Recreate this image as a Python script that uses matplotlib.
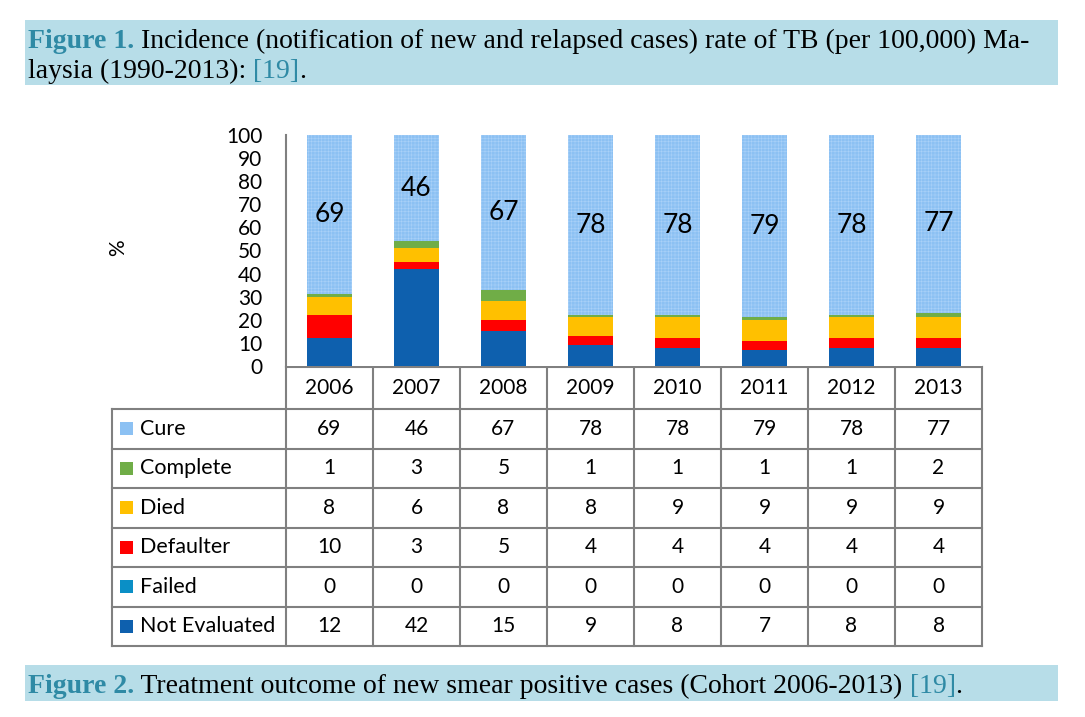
import matplotlib.pyplot as plt
import numpy as np

# Данные
years = ['2006', '2007', '2008', '2009', '2010', '2011', '2012', '2013']
categories = ['Cure', 'Complete', 'Died', 'Defaulter', 'Failed', 'Not Evaluated']
cure = [69, 46, 67, 78, 78, 79, 78, 77]
complete = [1, 3, 5, 1, 1, 1, 1, 2]
died = [8, 6, 8, 8, 9, 9, 9, 9]
defaulter = [10, 3, 5, 4, 4, 4, 4, 4]
failed = [0, 0, 0, 0, 0, 0, 0, 0]
not_evaluated = [12, 42, 15, 9, 8, 7, 8, 8]

colors = {'Cure': '#8cc1f3', 'Complete': '#70ad47', 'Died': '#ffc000',
          'Defaulter': '#ff0000', 'Failed': '#0a8fc6', 'Not Evaluated': '#0e60ae'}
series = {'Cure': cure, 'Complete': complete, 'Died': died,
          'Defaulter': defaulter, 'Failed': failed, 'Not Evaluated': not_evaluated}

W, H = 1085, 717
plt.rcParams['font.family'] = ['Lato', 'DejaVu Sans']
plt.rcParams['hatch.linewidth'] = 0.4
fig = plt.figure(figsize=(W / 100, H / 100), dpi=100)

# фон-слой в пикселях (подписи и таблица)
bg = fig.add_axes([0, 0, 1, 1])
bg.set_xlim(0, W)
bg.set_ylim(H, 0)
bg.axis('off')

# столбцы
x0, x1, ytop, ybot = 286, 982, 135, 366
ax = fig.add_axes([x0 / W, 1 - ybot / H, (x1 - x0) / W, (ybot - ytop) / H])
x = np.arange(len(years)) + 0.5
bottom = np.zeros(len(years))
for name in ['Not Evaluated', 'Failed', 'Defaulter', 'Died', 'Complete', 'Cure']:
    vals = np.array(series[name], dtype=float)
    if name == 'Cure':
        ax.bar(x, vals, 0.51, bottom=bottom, color=colors[name],
               edgecolor='#a9d1f8', hatch='+++++', linewidth=0)
        for xi, b, v in zip(x, bottom, vals):
            ax.text(xi, b + v / 2, f'{int(v)}', ha='center', va='center', fontsize=19)
    else:
        ax.bar(x, vals, 0.51, bottom=bottom, color=colors[name], linewidth=0)
    bottom += vals
ax.set_xlim(0, 8)
ax.set_ylim(0, 100)
ax.set_yticks(range(0, 101, 10))
ax.tick_params(axis='y', length=0, pad=17, labelsize=15)
ax.set_xticks([])
for s in ['top', 'right']:
    ax.spines[s].set_visible(False)
ax.spines['left'].set_color('#808080')
ax.spines['left'].set_linewidth(1.5)
ax.spines['bottom'].set_visible(False)
bg.text(118, 248, '%', rotation=90, ha='center', va='center', fontsize=15)

# таблица
lc = '#808080'
lw = 1.5
col_w = (x1 - x0) / len(years)
hdr_top, hdr_bot = 367, 409
row_h = (646 - hdr_bot) / len(categories)
tab_left = 112
bg.plot([x0, x1], [hdr_top, hdr_top], color=lc, lw=lw)
for i in range(len(years) + 1):
    bg.plot([x0 + i * col_w] * 2, [hdr_top, 646], color=lc, lw=lw)
bg.plot([tab_left, tab_left], [hdr_bot, 646], color=lc, lw=lw)
for r in range(len(categories) + 1):
    y = hdr_bot + r * row_h
    bg.plot([tab_left, x1], [y, y], color=lc, lw=lw)
for i, yr in enumerate(years):
    bg.text(x0 + (i + 0.5) * col_w, (hdr_top + hdr_bot) / 2, yr,
            ha='center', va='center', fontsize=15)
for r, name in enumerate(categories):
    yc = hdr_bot + (r + 0.5) * row_h
    bg.add_patch(plt.Rectangle((120, yc - 6.5), 13, 13, color=colors[name], lw=0))
    bg.text(140, yc, name, ha='left', va='center', fontsize=15.5)
    for i, v in enumerate(series[name]):
        bg.text(x0 + (i + 0.5) * col_w, yc, str(v), ha='center', va='center', fontsize=15)

# подписи рисунков
band = '#b7dde8'
teal = '#2f8aa5'
bg.add_patch(plt.Rectangle((25, 20), 1033, 65, color=band, lw=0, zorder=0))
bg.add_patch(plt.Rectangle((25, 665), 1033, 36, color=band, lw=0, zorder=0))
serif = ['Liberation Serif', 'DejaVu Serif']
fs = 20


def chain(parts, x, y):
    prev = None
    for txt, col, wt in parts:
        if prev is None:
            prev = bg.text(x, y, txt, color=col, fontweight=wt, fontsize=fs,
                           family=serif, va='baseline', ha='left')
        else:
            prev = bg.annotate(txt, xy=(1, 0), xycoords=prev, color=col,
                               fontweight=wt, fontsize=fs, family=serif,
                               va='bottom', ha='left')


chain([('Figure 1.', teal, 'bold'),
       (' Incidence (notification of new and relapsed cases) rate of TB (per 100,000) Ma-',
        'black', 'normal')], 28, 48)
chain([('laysia (1990-2013): ', 'black', 'normal'), ('[19]', teal, 'normal'),
       ('.', 'black', 'normal')], 28, 78)
chain([('Figure 2.', teal, 'bold'),
       (' Treatment outcome of new smear positive cases (Cohort 2006-2013) ', 'black', 'normal'),
       ('[19]', teal, 'normal'), ('.', 'black', 'normal')], 28, 693)

plt.savefig('out.png', dpi=100)
